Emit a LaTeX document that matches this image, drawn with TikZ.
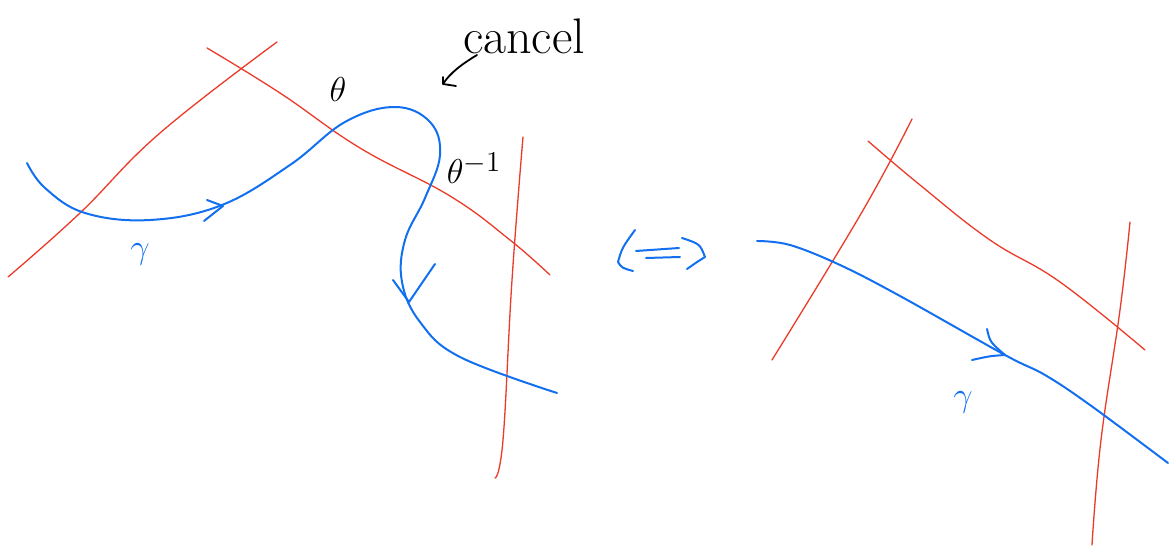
\documentclass[tikz,border=0pt]{standalone}
\definecolor{penred}{RGB}{235,58,40}
\definecolor{penblue}{RGB}{18,112,240}
\tikzset{
  redpen/.style={draw=penred, line width=0.65pt, line cap=round, line join=round},
  bluepen/.style={draw=penblue, line width=1pt, line cap=round, line join=round},
  blackpen/.style={draw=black, line width=0.9pt, line cap=round, line join=round},
  lbl/.style={inner sep=0pt, text=black},
  bluelbl/.style={inner sep=0pt, text=penblue},
  bigfont/.style={font=\fontsize{19}{21}\selectfont}
}
\begin{document}
\begin{tikzpicture}[x=0.5pt, y=-0.5pt]
\useasboundingbox (0,0) rectangle (1175,550);
% ---------- left figure ----------
\draw[redpen] plot[smooth, tension=0.7] coordinates {(8,277) (80,213) (160,133) (277,42)};
\draw[redpen] plot[smooth, tension=0.7] coordinates {(207,48) (280,93) (360,148) (450,196) (510,240) (550,275)};
\draw[redpen] plot[smooth, tension=0.7] coordinates {(523,137) (512,280) (503,440) (495,478)};
\draw[bluepen] plot[smooth, tension=0.65] coordinates {(27,163) (45,188) (85,213) (150,220) (222,205) (290,165) (345,122) (395,107) (430,122) (440,155) (425,198) (405,240) (402,282) (420,322) (460,357) (557,393)};
% arrows on the left curve
\draw[bluepen] (207,200) -- (223,206) -- (204,221);
\draw[bluepen] (393,280) -- (409,302) -- (435,264);
% labels
\node[bluelbl, bigfont] (gl) at (140,254) {$\gamma$};
\node[lbl, bigfont] (th) at (338,90) {$\theta$};
\node[lbl, bigfont] (thi) at (474,168) {$\theta^{-1}$};
\node[lbl, font=\fontsize{25}{27}\selectfont] (can) at (524,36) {cancel};
\coordinate (ctail) at (477,55);
\coordinate (ctip) at (443,84);
\draw[blackpen] (ctail) .. controls (462,64) and (450,73) .. (ctip);
\draw[blackpen] (443,77) -- (ctip) -- (456,86);
% equivalence arrow
\draw[bluepen] (635,230) .. controls (622,248) .. (618,262) .. controls (622,268) .. (633,271);
\draw[bluepen] (682,238) .. controls (700,244) .. (705,257) .. controls (697,262) .. (687,269);
\draw[bluepen] (636,251) -- (679,248);
\draw[bluepen] (646,258) -- (680,257);
% ---------- right figure ----------
\draw[redpen] plot[smooth, tension=0.7] coordinates {(912,119) (862,212) (772,360)};
\draw[redpen] plot[smooth, tension=0.7] coordinates {(868,141) (920,185) (990,240) (1060,282) (1145,350)};
\draw[redpen] plot[smooth, tension=0.7] coordinates {(1130,222) (1120,310) (1101,440) (1092,545)};
\draw[bluepen] plot[smooth, tension=0.6] coordinates {(757,241) (790,245) (840,265) (900,296) (1005,355) (1045,375) (1090,405) (1168,463)};
\draw[bluepen] (987,329) .. controls (990,342) .. (1005,355);
\draw[bluepen] (972,360) .. controls (990,356) .. (1005,355);
\node[bluelbl, bigfont] (gr) at (963,402) {$\gamma$};
\end{tikzpicture}
\end{document}
